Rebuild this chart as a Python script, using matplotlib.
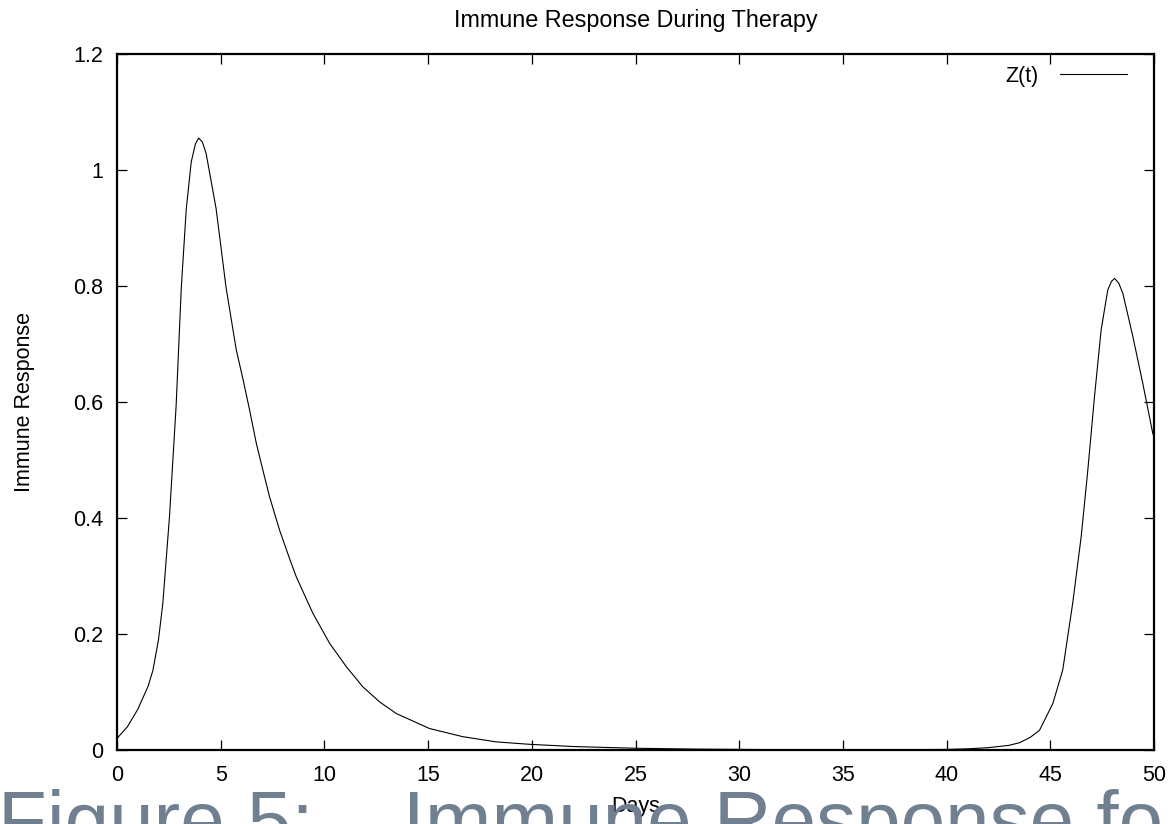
import matplotlib
matplotlib.use("Agg")
import matplotlib.pyplot as plt

plt.rcParams['font.family'] = ['Liberation Sans', 'DejaVu Sans']

# Data
days = [0, 0.5, 1.0, 1.25, 1.5, 1.73, 2.0, 2.21, 2.53, 2.85, 3.10, 3.34, 3.58,
        3.78, 3.94, 4.12, 4.30, 4.78, 5.26, 5.75, 6.07, 6.4, 6.71, 7.03, 7.36,
        7.84, 8.32, 8.64, 9.44, 10.25, 11.05, 11.85, 12.66, 13.46, 15.07, 16.67,
        18.28, 19.89, 22, 25, 28, 31, 35, 38, 40, 41, 42, 43, 43.52, 44.04,
        44.48, 45.12, 45.6, 46.08, 46.49, 46.81, 47.13, 47.45, 47.77, 47.95,
        48.1, 48.3, 48.5, 48.98, 49.46, 49.94, 50]
immune = [0.02, 0.04, 0.07, 0.09, 0.11, 0.137, 0.19, 0.253, 0.402, 0.593, 0.797,
          0.933, 1.014, 1.045, 1.055, 1.048, 1.028, 0.933, 0.797, 0.69, 0.64,
          0.585, 0.53, 0.483, 0.436, 0.379, 0.330, 0.299, 0.236, 0.184, 0.144,
          0.109, 0.083, 0.063, 0.037, 0.023, 0.014, 0.0098, 0.006, 0.003,
          0.0015, 0.0008, 0.0004, 0.0005, 0.001, 0.002, 0.004, 0.008, 0.0126,
          0.022, 0.034, 0.080, 0.138, 0.253, 0.368, 0.483, 0.609, 0.724, 0.793,
          0.808, 0.813, 0.805, 0.787, 0.713, 0.632, 0.546, 0.540]

x_ticks = [0, 5, 10, 15, 20, 25, 30, 35, 40, 45, 50]
y_ticks = [0, 0.2, 0.4, 0.6, 0.8, 1.0, 1.2]
y_tick_labels = ['0', '0.2', '0.4', '0.6', '0.8', '1', '1.2']

W, H = 1171, 824
fig = plt.figure(figsize=(W / 100, H / 100), dpi=100)
L, R, T, B = 117, 1154, 54, 750
ax = fig.add_axes([L / W, (H - B) / H, (R - L) / W, (B - T) / H])

ax.plot(days, immune, color='black', lw=0.8, label='Z(t)')
ax.set_xlim(0, 50)
ax.set_ylim(0, 1.2)
ax.set_xticks(x_ticks)
ax.set_xticklabels([str(v) for v in x_ticks])
ax.set_yticks(y_ticks)
ax.set_yticklabels(y_tick_labels)

fs = 15.5
ax.tick_params(direction='in', length=7, width=0.9, top=True, right=True,
               labelsize=fs)
ax.tick_params(axis='x', pad=11)
ax.tick_params(axis='y', pad=10)
for s in ax.spines.values():
    s.set_linewidth(1.6)

ax.set_xlabel('Days', fontsize=fs)
ax.xaxis.set_label_coords(0.5, -0.066)
ax.set_ylabel('Immune Response', fontsize=fs)
ax.yaxis.set_label_coords(-0.079, 0.5)

fig.text(635.5 / W, (H - 27.5) / H, 'Immune Response During Therapy',
         ha='center', va='baseline', fontsize=16.8)

leg = ax.legend(loc='upper right', bbox_to_anchor=((1127 - L) / (R - L), (B - 66) / (B - T)),
                frameon=False, markerfirst=False, fontsize=fs, handlelength=3.1,
                handletextpad=1.0, borderpad=0, borderaxespad=0)

fig.text(-2 / W, (H - 847) / H, 'Figure 5:    Immune Response fo',
         ha='left', va='baseline', fontsize=57.6, color='#708090')

fig.savefig('out.png', dpi=100)
